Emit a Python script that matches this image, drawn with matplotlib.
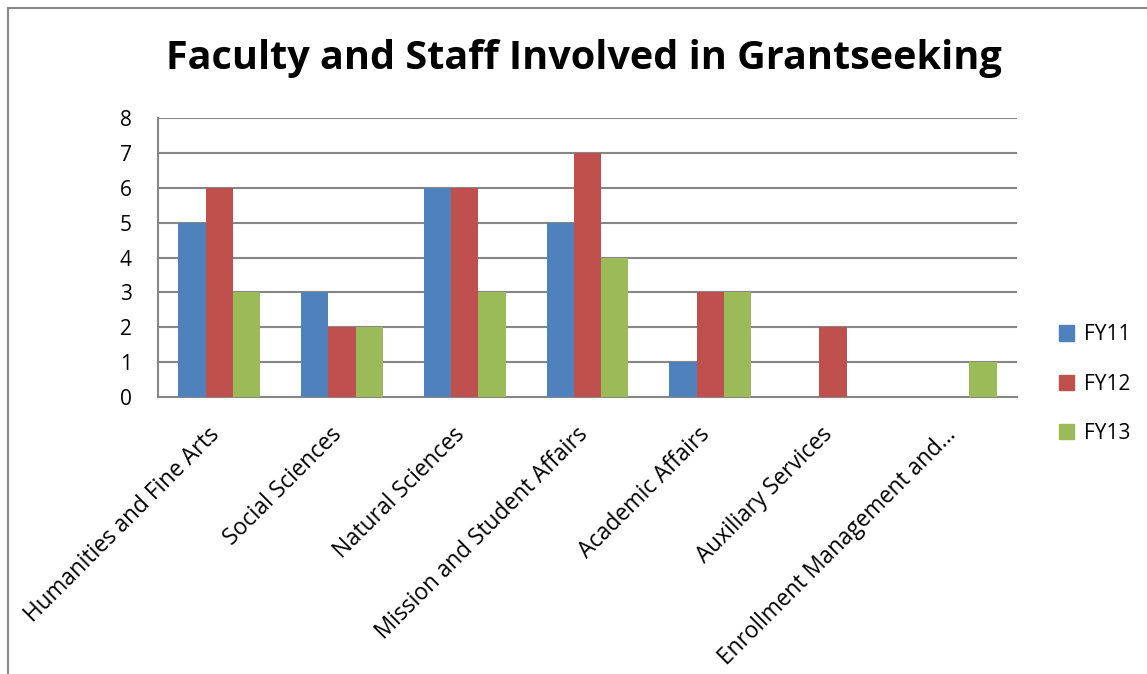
import numpy as np
import matplotlib
matplotlib.use("Agg")
import matplotlib.pyplot as plt
import matplotlib.transforms as mtrans
from matplotlib.lines import Line2D
from matplotlib.patches import Patch

plt.rcParams['font.family'] = ['Open Sans', 'DejaVu Sans']

categories = ["Humanities and Fine Arts", "Social Sciences", "Natural Sciences",
              "Mission and Student Affairs", "Academic Affairs", "Auxiliary Services",
              "Enrollment Management and\u2026"]
fy11 = [5, 3, 6, 5, 1, 0, 0]
fy12 = [6, 2, 6, 7, 3, 2, 0]
fy13 = [3, 2, 3, 4, 3, 0, 1]
series = ["FY11", "FY12", "FY13"]
colors = ["#4F81BD", "#C0504D", "#9BBB59"]
yticks = [0, 1, 2, 3, 4, 5, 6, 7, 8]

W, H = 1147, 674
fig = plt.figure(figsize=(W / 100, H / 100), dpi=100)

# outer chart border (left and top visible)
fig.add_artist(Line2D([8 / W, 8 / W], [0, 1 - 8 / H], color="#868686", lw=1.5))
fig.add_artist(Line2D([8 / W, 1], [1 - 8 / H, 1 - 8 / H], color="#868686", lw=1.5))

ax = fig.add_axes([158 / W, 1 - 397 / H, (1017 - 158) / W, (397 - 118) / H])

x = np.arange(len(categories))
bw = 0.2225
for k, vals in enumerate([fy11, fy12, fy13]):
    ax.bar(x + (k - 1) * bw, vals, width=bw, color=colors[k], zorder=3,
           label=series[k])

ax.set_xlim(-0.5, len(categories) - 0.5)
ax.set_ylim(0, 8)
ax.set_yticks(yticks)
ax.yaxis.grid(True, color="#868686", lw=1.5, zorder=0)
for s in ["top", "right"]:
    ax.spines[s].set_visible(False)
for s in ["left", "bottom"]:
    ax.spines[s].set_color("#868686")
    ax.spines[s].set_linewidth(1.5)
ax.tick_params(axis="y", length=0, pad=19, labelsize=15)
ax.tick_params(axis="x", length=0)
ax.set_xticks(x)
ax.set_xticklabels(categories, rotation=45, ha="right", va="top",
                   rotation_mode="anchor", fontsize=16.3)
shift = mtrans.ScaledTranslation(-12 / 100, -21 / 100, fig.dpi_scale_trans)
for lab in ax.get_xticklabels():
    lab.set_transform(lab.get_transform() + shift)

handles = [Patch(color=c) for c in colors]
fig.legend(handles, series, loc="center left", bbox_to_anchor=(1040 / W, 1 - 384 / H),
           frameon=False, fontsize=15, handlelength=0.75, handleheight=0.75,
           labelspacing=1.35, handletextpad=0.45)

fig.text(584 / W, 1 - 59 / H, "Faculty and Staff Involved in Grantseeking",
         ha="center", va="center", fontsize=28.5, fontweight="bold")

fig.savefig("out.png", dpi=100)
